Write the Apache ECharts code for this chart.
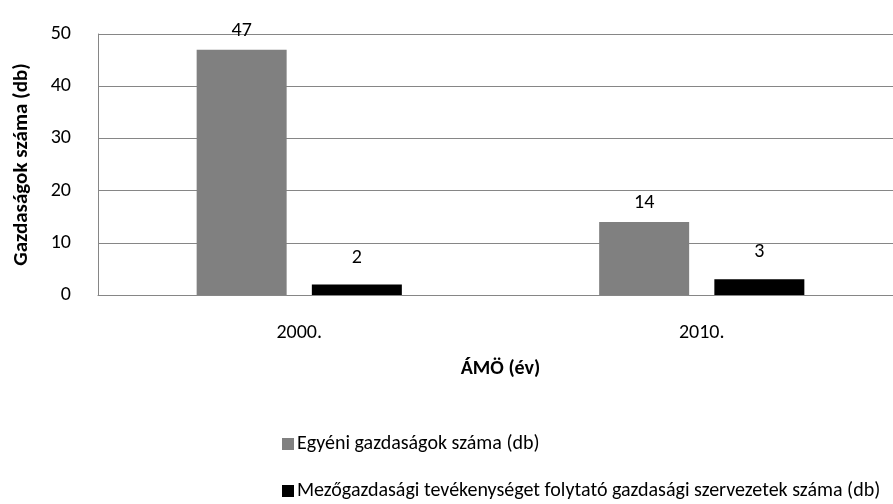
<!DOCTYPE html>
<html>
<head>
<meta charset="utf-8">
<script src="https://cdn.jsdelivr.net/npm/echarts@6/dist/echarts.min.js"></script>
<style>
	html, body { margin: 0; padding: 0; background: #ffffff; }
	#chart { width: 893px; height: 504px; }
</style>
</head>
<body>
<div id="chart"></div>
<script>
var categories = [ '2000.', '2010.' ];
var seriesNames = [ 'Egyéni gazdaságok száma (db)',
		'Mezőgazdasági tevékenységet folytató gazdasági szervezetek száma (db)' ];
var egyeni = [ 47, 14 ];
var szervezetek = [ 2, 3 ];
var yTicks = [ 0, 10, 20, 30, 40, 50 ];

var font = 'Carlito, Calibri, Lato, sans-serif';
var fs = 20;

// one legend per line, stacked like the original
function legendFor(name, top) {
	return {
		orient : 'horizontal',
		left : 277,
		top : top,
		itemWidth : 12,
		itemHeight : 12,
		icon : 'rect',
		textStyle : {
			fontFamily : font,
			fontSize : fs,
			color : '#000000',
			padding : [ 0, 0, 0, -2 ]
		},
		data : [ name ]
	};
}

var myChart = echarts.init(document.getElementById('chart'));
var option = {
	animation : false,
	textStyle : {
		fontFamily : font
	},
	grid : {
		left : 98,
		top : 34,
		width : 805,
		height : 261,
		containLabel : false,
		outerBoundsMode : 'none'
	},
	legend : [ legendFor(seriesNames[0], 429), legendFor(seriesNames[1], 476) ],
	xAxis : {
		type : 'category',
		data : categories,
		name : 'ÁMÖ (év)',
		nameLocation : 'middle',
		nameGap : 64,
		nameTextStyle : {
			fontFamily : font,
			fontWeight : 'bold',
			fontSize : fs,
			color : '#000000'
		},
		axisLine : {
			lineStyle : {
				color : '#868686'
			}
		},
		axisTick : {
			show : false
		},
		axisLabel : {
			margin : 28,
			fontSize : fs,
			color : '#000000'
		}
	},
	yAxis : {
		type : 'value',
		min : yTicks[0],
		max : yTicks[yTicks.length - 1],
		interval : 10,
		name : 'Gazdaságok száma (db)',
		nameLocation : 'middle',
		nameGap : 66,
		nameTextStyle : {
			fontFamily : font,
			fontWeight : 'bold',
			fontSize : 21,
			color : '#000000'
		},
		axisLine : {
			show : true,
			lineStyle : {
				color : '#868686'
			}
		},
		axisTick : {
			show : false
		},
		axisLabel : {
			margin : 27,
			fontSize : fs,
			color : '#000000'
		},
		splitLine : {
			lineStyle : {
				color : '#868686'
			}
		}
	},
	series : [ {
		name : seriesNames[0],
		type : 'bar',
		barWidth : 90,
		barGap : '28%',
		data : egyeni,
		itemStyle : {
			color : '#808080'
		},
		label : {
			show : true,
			position : 'top',
			distance : 9,
			fontSize : fs,
			color : '#000000'
		}
	}, {
		name : seriesNames[1],
		type : 'bar',
		barWidth : 90,
		data : szervezetek,
		itemStyle : {
			color : '#000000'
		},
		label : {
			show : true,
			position : 'top',
			distance : 17,
			fontSize : fs,
			color : '#000000'
		}
	} ]
};
myChart.setOption(option);
</script>
</body>
</html>
